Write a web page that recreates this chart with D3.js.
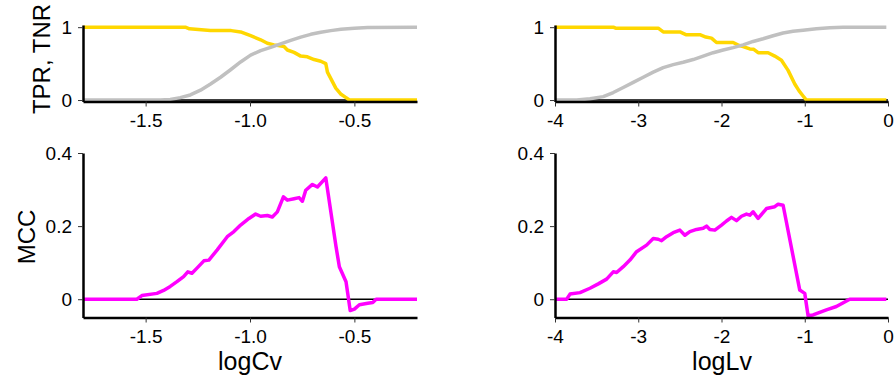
<!DOCTYPE html>
<html>
<head>
<meta charset="utf-8">
<script src="https://cdn.jsdelivr.net/npm/d3@7"></script>
<style>
  body { margin: 0; background: #fff; }
  svg { font-family: "Liberation Sans", Arial, sans-serif; }
</style>
</head>
<body>
<div id="chart"></div>
<script>
var width = 894;
var height = 376;

// --- data ---
// logCv panels
var tprCvX = [-1.8, -1.31, -1.29, -1.19, -1.09, -1.045, -0.997, -0.949, -0.917, -0.885, -0.837, -0.821, -0.789, -0.757, -0.725, -0.693, -0.661, -0.637, -0.629, -0.589, -0.564, -0.540, -0.524, -0.2];
var tprCvY = [1, 1, 0.977, 0.953, 0.953, 0.935, 0.883, 0.827, 0.780, 0.757, 0.734, 0.687, 0.654, 0.603, 0.593, 0.556, 0.533, 0.50, 0.383, 0.164, 0.079, 0.033, 0, 0];
var tnrCvX = [-1.8, -1.430, -1.382, -1.334, -1.286, -1.237, -1.189, -1.141, -1.093, -1.045, -0.997, -0.949, -0.901, -0.853, -0.805, -0.757, -0.709, -0.661, -0.613, -0.564, -0.500, -0.436, -0.2];
var tnrCvY = [0, 0, 0.009, 0.033, 0.070, 0.136, 0.220, 0.313, 0.416, 0.523, 0.617, 0.678, 0.724, 0.771, 0.818, 0.864, 0.902, 0.930, 0.953, 0.972, 0.986, 0.995, 1];
var mccCvX = [-1.8, -1.542, -1.518, -1.446, -1.414, -1.382, -1.350, -1.318, -1.298, -1.278, -1.254, -1.221, -1.197, -1.157, -1.109, -1.077, -1.045, -1.005, -0.973, -0.949, -0.917, -0.893, -0.869, -0.840, -0.821, -0.789, -0.765, -0.749, -0.733, -0.701, -0.677, -0.637, -0.588, -0.572, -0.540, -0.520, -0.500, -0.476, -0.436, -0.412, -0.396, -0.2];
var mccCvY = [0, 0, 0.010, 0.016, 0.024, 0.035, 0.048, 0.062, 0.075, 0.071, 0.085, 0.105, 0.107, 0.135, 0.171, 0.185, 0.203, 0.221, 0.233, 0.227, 0.229, 0.225, 0.239, 0.280, 0.271, 0.275, 0.278, 0.268, 0.298, 0.314, 0.307, 0.332, 0.144, 0.089, 0.048, -0.031, -0.027, -0.015, -0.011, -0.009, 0, 0];

// logLv panels
var tprLvX = [-4, -3.3, -3.272, -2.76, -2.70, -2.50, -2.428, -2.26, -2.188, -2.12, -2.06, -1.86, -1.788, -1.74, -1.66, -1.612, -1.56, -1.44, -1.36, -1.28, -1.20, -1.12, -1.068, -1.02, -0.98, -0.02];
var tprLvY = [1, 1, 0.986, 0.986, 0.935, 0.935, 0.897, 0.897, 0.864, 0.850, 0.790, 0.790, 0.748, 0.734, 0.701, 0.696, 0.650, 0.650, 0.603, 0.547, 0.407, 0.220, 0.126, 0.056, 0, 0];
var tnrLvX = [-4, -3.74, -3.58, -3.42, -3.30, -3.18, -3.06, -2.94, -2.82, -2.70, -2.58, -2.46, -2.34, -2.22, -2.10, -1.98, -1.86, -1.74, -1.62, -1.50, -1.38, -1.26, -1.14, -1.02, -0.86, -0.70, -0.54, -0.02];
var tnrLvY = [0, 0, 0.019, 0.047, 0.103, 0.173, 0.243, 0.313, 0.383, 0.444, 0.486, 0.519, 0.556, 0.603, 0.650, 0.687, 0.720, 0.757, 0.804, 0.841, 0.883, 0.921, 0.944, 0.958, 0.977, 0.991, 1, 1];
var mccLvX = [-4, -3.86, -3.82, -3.70, -3.58, -3.48, -3.38, -3.30, -3.26, -3.18, -3.10, -3.02, -2.90, -2.82, -2.76, -2.72, -2.66, -2.58, -2.50, -2.44, -2.38, -2.30, -2.22, -2.18, -2.14, -2.08, -2.00, -1.94, -1.88, -1.82, -1.76, -1.70, -1.66, -1.62, -1.56, -1.46, -1.36, -1.32, -1.26, -1.06, -1.00, -0.96, -0.90, -0.74, -0.62, -0.46, -0.02];
var mccLvY = [0, 0, 0.014, 0.018, 0.030, 0.042, 0.055, 0.075, 0.073, 0.089, 0.107, 0.130, 0.148, 0.166, 0.164, 0.160, 0.171, 0.182, 0.189, 0.175, 0.185, 0.191, 0.194, 0.200, 0.191, 0.189, 0.203, 0.214, 0.224, 0.215, 0.227, 0.233, 0.230, 0.239, 0.221, 0.248, 0.253, 0.260, 0.257, 0.025, 0.016, -0.045, -0.043, -0.029, -0.020, 0, 0];

var cvTicks = [-1.5, -1.0, -0.5];
var lvTicks = [-4, -3, -2, -1, 0];
var rateTicks = [0, 1];
var mccTicks = [0, 0.2, 0.4];

var yellow = "#ffd700";
var grey = "#c0c0c0";
var magenta = "#ff00ff";

var svg = d3.select("#chart")
  .append("svg")
  .attr("width", width)
  .attr("height", height)

function zip(xs, ys) {
  return xs.map((x, i) => [x, ys[i]]);
}

// hyphen instead of unicode minus, like the original
var cvFmt = d => d3.format(".1f")(d).replace("\u2212", "-");
var lvFmt = d => d3.format("d")(d).replace("\u2212", "-");
var rateFmt = d => String(d);
var mccFmt = d => d === 0 ? "0" : d3.format(".1f")(d);

// one panel: x scale, y scale, ticks, and the curves
function panel(xDomain, xRange, yDomain, yRange, xTicks, yTicks, xFmt, yFmt, series) {
  var x = d3.scaleLinear().domain(xDomain).range(xRange);
  var y = d3.scaleLinear().domain(yDomain).range(yRange);
  var g = svg.append("g");

  // zero line
  g.append("line")
    .attr("x1", x(xDomain[0])).attr("x2", x(xDomain[1]))
    .attr("y1", y(0)).attr("y2", y(0))
    .attr("stroke", "#000")
    .attr("stroke-width", 1.5);

  var line = d3.line().x(d => x(d[0])).y(d => y(d[1]));
  series.forEach(s => {
    g.append("path")
      .datum(s.data)
      .attr("d", line)
      .attr("fill", "none")
      .attr("stroke", s.color)
      .attr("stroke-width", 3.5)
      .attr("stroke-linejoin", "round");
  });

  var xAxis = g.append("g")
    .attr("transform", "translate(0," + yRange[0] + ")")
    .call(d3.axisBottom(x).tickValues(xTicks).tickFormat(xFmt).tickSize(5).tickPadding(7).tickSizeOuter(0));
  var yAxis = g.append("g")
    .attr("transform", "translate(" + xRange[0] + ",0)")
    .call(d3.axisLeft(y).tickValues(yTicks).tickFormat(yFmt).tickSize(5).tickPadding(6).tickSizeOuter(0));

  [xAxis, yAxis].forEach(a => {
    a.select(".domain").attr("stroke", "#000").attr("stroke-width", 2.5);
    a.selectAll(".tick line").attr("stroke", "#333").attr("stroke-width", 1);
    a.selectAll(".tick text").attr("fill", "#000").style("font-size", "19px")
      .style("font-family", "'Liberation Sans', Arial, sans-serif");
  });
  return g;
}

var leftX = [83, 417];
var rightX = [555, 888];
var topY = [101.5, 25];
var botY = [317.5, 153];

panel([-1.8, -0.2], leftX, [-0.02, 1.03], topY, cvTicks, rateTicks, cvFmt, rateFmt, [
  {data: zip(tprCvX, tprCvY), color: yellow},
  {data: zip(tnrCvX, tnrCvY), color: grey}
]);
panel([-4, 0], rightX, [-0.02, 1.03], topY, lvTicks, rateTicks, lvFmt, rateFmt, [
  {data: zip(tprLvX, tprLvY), color: yellow},
  {data: zip(tnrLvX, tnrLvY), color: grey}
]);
panel([-1.8, -0.2], leftX, [-0.05, 0.4], botY, cvTicks, mccTicks, cvFmt, mccFmt, [
  {data: zip(mccCvX, mccCvY), color: magenta}
]);
panel([-4, 0], rightX, [-0.05, 0.4], botY, lvTicks, mccTicks, lvFmt, mccFmt, [
  {data: zip(mccLvX, mccLvY), color: magenta}
]);

// axis titles
svg.append("text")
  .attr("transform", "translate(50,59) rotate(-90)")
  .attr("text-anchor", "middle")
  .style("font-size", "24px")
  .text("TPR, TNR");
svg.append("text")
  .attr("transform", "translate(35,237) rotate(-90)")
  .attr("text-anchor", "middle")
  .style("font-size", "24px")
  .text("MCC");
svg.append("text")
  .attr("x", 250).attr("y", 370)
  .attr("text-anchor", "middle")
  .style("font-size", "25px")
  .text("logCv");
svg.append("text")
  .attr("x", 722).attr("y", 370)
  .attr("text-anchor", "middle")
  .style("font-size", "25px")
  .text("logLv");
</script>
</body>
</html>
